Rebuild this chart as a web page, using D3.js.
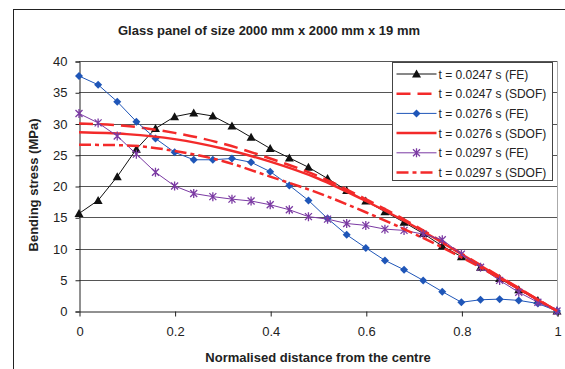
<!DOCTYPE html>
<html lang="en">
<head>
<meta charset="UTF-8">
<title>Glass panel bending stress</title>
<script src="https://cdn.jsdelivr.net/npm/d3@7/dist/d3.min.js"></script>
<style>
  body { margin: 0; background: #fff; }
  text { font-family: Arial, "Liberation Sans", sans-serif; fill: #222; }
</style>
</head>
<body>
<script>
// x positions of FE nodes (normalised distance)
var xFE = [0, 0.04, 0.08, 0.12, 0.16, 0.2, 0.24, 0.28, 0.32, 0.36, 0.4, 0.44, 0.48,
           0.52, 0.56, 0.6, 0.64, 0.68, 0.72, 0.76, 0.8, 0.84, 0.88, 0.92, 0.96, 1];
var fe0247 = [15.6, 17.7, 21.5, 25.9, 29.2, 31.1, 31.7, 31.2, 29.6, 27.8, 26.0, 24.5, 23.0,
              21.2, 19.3, 17.6, 15.9, 14.2, 12.4, 10.4, 8.7, 7.0, 5.2, 3.4, 1.7, 0];
var fe0276 = [37.6, 36.2, 33.5, 30.3, 27.6, 25.4, 24.2, 24.2, 24.4, 23.8, 22.3, 20.1, 17.7,
              14.8, 12.2, 10.1, 8.1, 6.6, 4.9, 3.1, 1.4, 1.8, 1.9, 1.7, 1.2, 0];
var fe0297 = [31.6, 30.1, 28.0, 25.1, 22.2, 20.0, 18.8, 18.3, 17.9, 17.6, 17.0, 16.2, 15.1,
              14.7, 14.0, 13.7, 13.1, 12.9, 12.3, 11.4, 9.1, 7.0, 4.9, 3.0, 1.4, 0];

// SDOF curves
var xSDOF = [0, 0.1, 0.2, 0.3, 0.4, 0.5, 0.6, 0.7, 0.8, 0.9, 1];
var sdof0247 = [30.0, 29.6, 28.5, 26.8, 24.4, 21.6, 17.9, 13.8, 9.2, 4.6, 0];
var sdof0276 = [28.6, 28.3, 27.5, 26.0, 23.9, 21.2, 17.6, 13.6, 9.1, 4.5, 0];
var sdof0297 = [26.6, 26.5, 25.6, 24.0, 21.5, 18.9, 15.8, 12.4, 8.6, 4.4, 0];

var xTicks = [0, 0.2, 0.4, 0.6, 0.8, 1];
var yTicks = [0, 5, 10, 15, 20, 25, 30, 35, 40];

var W = 565, H = 369;
// plot area edges (not named "top": that is a read-only window global)
var plotL = 79, plotR = 557, plotT = 61, plotB = 311;

var svg = d3.select("body").append("svg")
    .attr("width", W)
    .attr("height", H);

// outer chart frame
svg.append("rect")
    .attr("x", 13.5).attr("y", 9.5)
    .attr("width", 600).attr("height", 400)
    .attr("fill", "none").attr("stroke", "#222").attr("stroke-width", 1);

var x = d3.scaleLinear().domain([0, 1]).range([plotL, plotR]);
var y = d3.scaleLinear().domain([0, 40]).range([plotB, plotT]);

// gridlines
svg.append("g").selectAll("line")
    .data(yTicks.filter(function (d) { return d > 0; }))
    .enter().append("line")
    .attr("x1", plotL).attr("x2", plotR)
    .attr("y1", function (d) { return Math.round(y(d)) + 0.5; })
    .attr("y2", function (d) { return Math.round(y(d)) + 0.5; })
    .attr("stroke", "#555").attr("stroke-width", 1);

// plot area right edge
svg.append("line")
    .attr("x1", plotR + 0.5).attr("x2", plotR + 0.5)
    .attr("y1", plotT).attr("y2", plotB)
    .attr("stroke", "#aaa");

// axes
var yAxis = svg.append("g")
    .attr("transform", "translate(" + (plotL + 0.5) + ",0.5)")
    .call(d3.axisLeft(y).tickValues(yTicks).tickSize(4).tickPadding(8).tickFormat(d3.format("d")));
var xAxis = svg.append("g")
    .attr("transform", "translate(0.5," + (plotB + 0.5) + ")")
    .call(d3.axisBottom(x).tickValues(xTicks).tickSize(5).tickPadding(10).tickFormat(function (d) { return d; }));
[xAxis, yAxis].forEach(function (a) {
    a.select(".domain").attr("stroke", "#222");
    a.selectAll(".tick line").attr("stroke", "#222");
    a.selectAll(".tick text").attr("font-size", 13).attr("fill", "#333")
        .attr("font-family", "Arial, 'Liberation Sans', sans-serif");
});
xAxis.selectAll(".tick").filter(function (d) { return d === 0; }).select("line").remove();

// titles
svg.append("text")
    .attr("x", 269).attr("y", 35)
    .attr("text-anchor", "middle")
    .attr("font-size", 13).attr("font-weight", "bold")
    .text("Glass panel of size 2000 mm x 2000 mm x 19 mm");
svg.append("text")
    .attr("x", 318).attr("y", 362)
    .attr("text-anchor", "middle")
    .attr("font-size", 13).attr("font-weight", "bold")
    .text("Normalised distance from the centre");
svg.append("text")
    .attr("transform", "translate(38,185) rotate(-90)")
    .attr("text-anchor", "middle")
    .attr("font-size", 13).attr("font-weight", "bold")
    .text("Bending stress (MPa)");

// series
var red = "#f32a2a";
var series = [
  { name: "t = 0.0247 s (FE)", xs: xFE, ys: fe0247, color: "#111", width: 1, marker: "triangle" },
  { name: "t = 0.0247 s (SDOF)", xs: xSDOF, ys: sdof0247, color: red, width: 2.5, dash: "14,7", smooth: true },
  { name: "t = 0.0276 s (FE)", xs: xFE, ys: fe0276, color: "#1f56b8", width: 1, marker: "diamond" },
  { name: "t = 0.0276 s (SDOF)", xs: xSDOF, ys: sdof0276, color: red, width: 2.5, smooth: true },
  { name: "t = 0.0297 s (FE)", xs: xFE, ys: fe0297, color: "#7b3aa3", width: 1, marker: "star" },
  { name: "t = 0.0297 s (SDOF)", xs: xSDOF, ys: sdof0297, color: red, width: 2.5, dash: "12,4,4,4", smooth: true }
];

function drawMarker(g, type, color) {
  if (type === "triangle") {
    g.append("path").attr("d", "M0,-4.5L4.5,3.5L-4.5,3.5Z").attr("fill", color);
  } else if (type === "diamond") {
    g.append("path").attr("d", "M0,-4L4,0L0,4L-4,0Z").attr("fill", color);
  } else if (type === "star") {
    g.append("path").attr("d", "M-3.5,-3.5L3.5,3.5M-3.5,3.5L3.5,-3.5M0,-4.5L0,4.5")
      .attr("stroke", color).attr("stroke-width", 1.3).attr("fill", "none");
  }
}

series.forEach(function (s) {
  var pts = s.xs.map(function (d, i) { return [d, s.ys[i]]; });
  var line = d3.line()
    .x(function (d) { return x(d[0]); })
    .y(function (d) { return y(d[1]); })
    .curve(s.smooth ? d3.curveMonotoneX : d3.curveLinear);
  svg.append("path")
    .attr("d", line(pts))
    .attr("fill", "none")
    .attr("stroke", s.color)
    .attr("stroke-width", s.width)
    .attr("stroke-dasharray", s.dash || null);
  if (s.marker) {
    svg.append("g").selectAll("g")
      .data(pts).enter().append("g")
      .attr("transform", function (d) { return "translate(" + x(d[0]) + "," + y(d[1]) + ")"; })
      .each(function () { drawMarker(d3.select(this), s.marker, s.color); });
  }
});

// legend
var lg = svg.append("g").attr("transform", "translate(392.5,62.5)");
lg.append("rect")
  .attr("width", 160).attr("height", 118)
  .attr("fill", "#fff").attr("stroke", "#444").attr("stroke-width", 1);
series.forEach(function (s, i) {
  var row = lg.append("g").attr("transform", "translate(0," + (11.5 + i * 19.7) + ")");
  row.append("line")
    .attr("x1", 4).attr("x2", 44)
    .attr("stroke", s.color).attr("stroke-width", s.width)
    .attr("stroke-dasharray", s.dash || null);
  if (s.marker) {
    var m = row.append("g").attr("transform", "translate(24,0)");
    drawMarker(m, s.marker, s.color);
  }
  row.append("text")
    .attr("x", 46).attr("y", 4.5)
    .attr("font-size", 12)
    .text(s.name);
});
</script>
</body>
</html>
